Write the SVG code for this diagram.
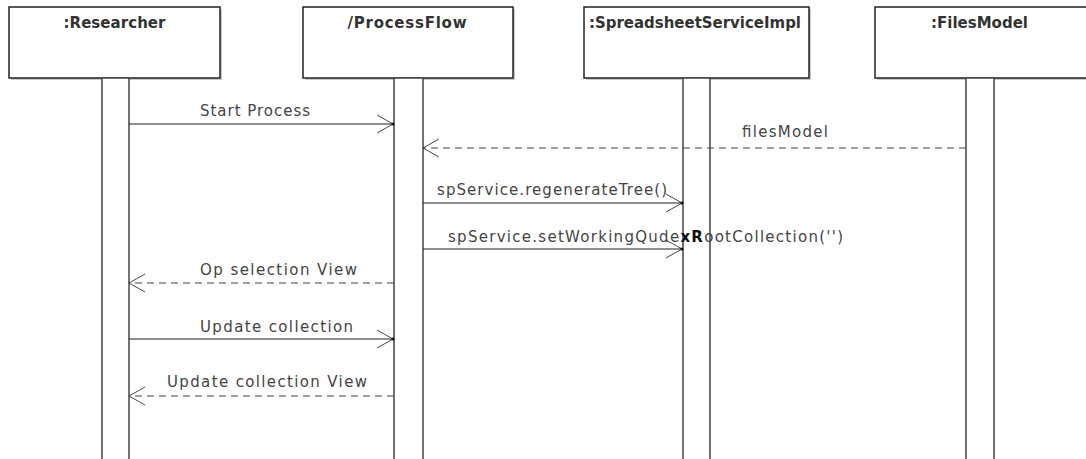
<svg xmlns="http://www.w3.org/2000/svg" width="1086" height="459" viewBox="0 0 1086 459">
<style>
.box{fill:#fff;stroke:#222;stroke-width:1.5}
.shadow{fill:#c8c8c8}
.life{fill:#fff;stroke:#444;stroke-width:1.5}
.title{font-family:"DejaVu Sans","Liberation Sans",sans-serif;font-size:15px;font-weight:bold;fill:#333}
.lbl{font-family:"DejaVu Sans","Liberation Sans",sans-serif;font-size:15px;fill:#444}
.sync{stroke:#222;stroke-width:1.2;fill:none}
.ret{stroke:#444;stroke-width:1.2;fill:none;stroke-dasharray:7 5}
.dot{fill:#111}
</style>
<defs>
<marker id="open" viewBox="-18 -11 20 22" refX="0" refY="0" markerWidth="20" markerHeight="22" markerUnits="userSpaceOnUse" orient="auto">
<path d="M-16,-9 L0,0 L-16,9" fill="none" stroke="#333" stroke-width="0.9" stroke-dasharray="none"/>
</marker>
</defs>
<rect width="1086" height="459" fill="#fff"/>
<g id="researcher">
<rect class="shadow" x="11" y="9" width="211" height="71"/>
<rect class="box" x="9" y="7" width="211" height="71"/>
<text class="title" x="114.5" y="28" text-anchor="middle" textLength="102" lengthAdjust="spacing">:Researcher</text>
<rect class="life" x="102" y="78" width="27" height="390"/>
</g>
<g id="processflow">
<rect class="shadow" x="305" y="9" width="210" height="71"/>
<rect class="box" x="303" y="7" width="210" height="71"/>
<text class="title" x="407" y="28" text-anchor="middle" textLength="119" lengthAdjust="spacing">/ProcessFlow</text>
<rect class="life" x="394" y="78" width="29" height="390"/>
</g>
<g id="spreadsheetservice">
<rect class="shadow" x="586" y="9" width="225" height="71"/>
<rect class="box" x="584" y="7" width="225" height="71"/>
<text class="title" x="695" y="28" text-anchor="middle" textLength="212" lengthAdjust="spacingAndGlyphs">:SpreadsheetServiceImpl</text>
<rect class="life" x="683" y="78" width="27" height="390"/>
</g>
<g id="filesmodel">
<rect class="shadow" x="877" y="9" width="215" height="71"/>
<rect class="box" x="875" y="7" width="215" height="71"/>
<text class="title" x="979.5" y="28" text-anchor="middle" textLength="97" lengthAdjust="spacing">:FilesModel</text>
<rect class="life" x="966" y="78" width="28" height="390"/>
</g>
<g id="connectors">
<line class="sync" x1="129" y1="124" x2="393" y2="124" marker-end="url(#open)"/>
<circle class="dot" cx="393" cy="124" r="1.6"/>
<text class="lbl" x="200" y="116" textLength="110" lengthAdjust="spacing">Start Process</text>

<line class="ret" x1="966" y1="148" x2="423" y2="148" marker-end="url(#open)"/>
<text class="lbl" x="742" y="137" textLength="86" lengthAdjust="spacing">filesModel</text>

<line class="sync" x1="423" y1="203" x2="682" y2="203" marker-end="url(#open)"/>
<circle class="dot" cx="682" cy="203" r="1.6"/>
<text class="lbl" x="437" y="195" textLength="230" lengthAdjust="spacing">spService.regenerateTree()</text>

<line class="sync" x1="423" y1="249" x2="682" y2="249" marker-end="url(#open)"/>
<circle class="dot" cx="682" cy="249" r="1.6"/>
<text class="lbl" x="448" y="242" textLength="395" lengthAdjust="spacing">spService.setWorkingQude<tspan font-weight="bold" fill="#111">xR</tspan>ootCollection('')</text>

<line class="ret" x1="394" y1="283" x2="129" y2="283" marker-end="url(#open)"/>
<text class="lbl" x="200" y="275" textLength="157" lengthAdjust="spacing">Op selection View</text>

<line class="sync" x1="129" y1="339" x2="393" y2="339" marker-end="url(#open)"/>
<circle class="dot" cx="393" cy="339" r="1.6"/>
<text class="lbl" x="200" y="332" textLength="153" lengthAdjust="spacing">Update collection</text>

<line class="ret" x1="394" y1="396" x2="129" y2="396" marker-end="url(#open)"/>
<text class="lbl" x="167" y="387" textLength="200" lengthAdjust="spacing">Update collection View</text>
</g>
</svg>
